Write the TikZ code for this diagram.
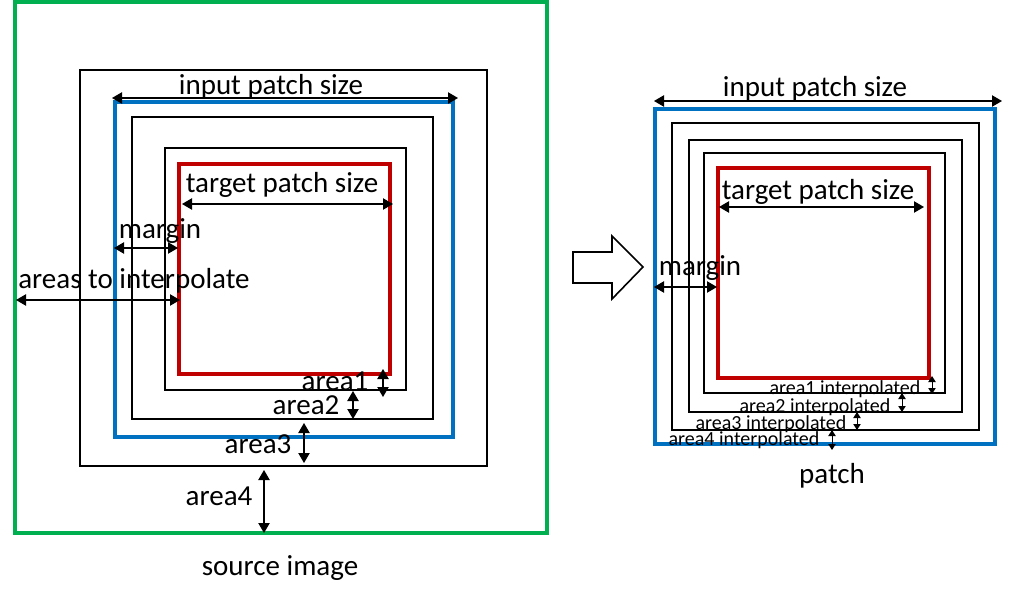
\documentclass[tikz,border=0pt]{standalone}
\usepackage{fontspec}
\setmainfont{Carlito}
\usetikzlibrary{arrows.meta}

\definecolor{srcgreen}{HTML}{00B050}
\definecolor{patchblue}{HTML}{0070C0}
\definecolor{targetred}{HTML}{C00000}

\begin{document}
\begin{tikzpicture}[x=0.75pt, y=-0.75pt,
    frame/.style = {draw, line width=1.5pt},
    dim/.style = {line width=0.9pt, {Triangle[length=7.5pt,width=8.5pt]}-{Triangle[length=7.5pt,width=8.5pt]}},
    smalldim/.style = {line width=0.75pt, {Triangle[length=4.5pt,width=5.5pt]}-{Triangle[length=4.5pt,width=5.5pt]}},
    lbl/.style = {inner sep=0pt, anchor=base, font=\fontsize{21.75}{26}\selectfont},
    small/.style = {inner sep=0pt, anchor=base, font=\fontsize{15}{18}\selectfont}]
    \useasboundingbox (0,0) rectangle (1015,600);

    % source image
    \draw[srcgreen, line width=2.4pt] (15,2) rectangle (547,533);
    \draw[frame] (80,70) rectangle (487,466);
    \draw[patchblue, line width=3pt] (115,102) rectangle (453,437);
    \draw[frame] (132,117) rectangle (433,419);
    \draw[frame] (165,148) rectangle (406,390);
    \draw[targetred, line width=2.8pt] (179,164) rectangle (390,374);

    \node[lbl] (in1) at (271,94) {input patch size};
    \node[lbl] (tg1) at (282,192) {target patch size};
    \node[lbl] (mg1) at (160,238) {margin};
    \node[lbl] (ai) at (134,288) {areas to interpolate};
    \node[lbl] (a1) at (335,390) {area1};
    \node[lbl] (a2) at (306,414) {area2};
    \node[lbl] (a3) at (258,453) {area3};
    \node[lbl] (a4) at (219,505) {area4};
    \node[lbl] (src) at (280,575) {source image};

    \coordinate (in1L) at (112,98);  \coordinate (in1R) at (458,98);
    \coordinate (tg1L) at (182,204); \coordinate (tg1R) at (393,204);
    \coordinate (mg1L) at (114,248); \coordinate (mg1R) at (178,248);
    \coordinate (aiL) at (16,300);   \coordinate (aiR) at (180,300);
    \coordinate (a1T) at (383,369);  \coordinate (a1B) at (383,397);
    \coordinate (a2T) at (353,391);  \coordinate (a2B) at (353,419);
    \coordinate (a3T) at (304,423);  \coordinate (a3B) at (304,463);
    \coordinate (a4T) at (264,470);  \coordinate (a4B) at (264,533);

    \draw[dim] (in1L) -- (in1R);
    \draw[dim] (tg1L) -- (tg1R);
    \draw[dim] (mg1L) -- (mg1R);
    \draw[dim] (aiL) -- (aiR);
    \draw[dim] (a1T) -- (a1B);
    \draw[dim] (a2T) -- (a2B);
    \draw[dim] (a3T) -- (a3B);
    \draw[dim] (a4T) -- (a4B);

    % hollow arrow
    \draw[line width=1.2pt, fill=white] (573,252) -- (612,252) -- (612,236) -- (643,267)
        -- (612,299) -- (612,283) -- (573,283) -- cycle;

    % patch
    \draw[patchblue, line width=3pt] (655,109) rectangle (995,444);
    \draw[frame] (672,123) rectangle (979,430);
    \draw[frame] (689,140) rectangle (962,412);
    \draw[frame] (704,153) rectangle (945,393);
    \draw[targetred, line width=2.8pt] (718,168) rectangle (929,378);

    \node[lbl] (in2) at (815,96) {input patch size};
    \node[lbl] (tg2) at (818,199) {target patch size};
    \node[lbl] (mg2) at (700,275) {margin};
    \node[small] (i1) at (845,394) {area1 interpolated};
    \node[small] (i2) at (815,412) {area2 interpolated};
    \node[small] (i3) at (771,429) {area3 interpolated};
    \node[small] (i4) at (744,445) {area4 interpolated};
    \node[lbl] (pt) at (832,483) {patch};

    \coordinate (in2L) at (654,101); \coordinate (in2R) at (1002,101);
    \coordinate (tg2L) at (719,207); \coordinate (tg2R) at (924,207);
    \coordinate (mg2L) at (654,287); \coordinate (mg2R) at (717,287);
    \coordinate (i1T) at (932,376);  \coordinate (i1B) at (932,394);
    \coordinate (i2T) at (902,393);  \coordinate (i2B) at (902,412);
    \coordinate (i3T) at (857,412);  \coordinate (i3B) at (857,430);
    \coordinate (i4T) at (832,430);  \coordinate (i4B) at (832,450);

    \draw[dim] (in2L) -- (in2R);
    \draw[dim] (tg2L) -- (tg2R);
    \draw[dim] (mg2L) -- (mg2R);
    \draw[smalldim] (i1T) -- (i1B);
    \draw[smalldim] (i2T) -- (i2B);
    \draw[smalldim] (i3T) -- (i3B);
    \draw[smalldim] (i4T) -- (i4B);

\end{tikzpicture}
\end{document}
